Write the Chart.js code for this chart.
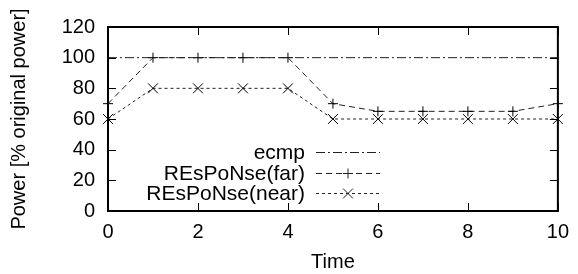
<!DOCTYPE html>
<html>
<head>
<meta charset="utf-8">
<script src="https://cdn.jsdelivr.net/npm/chart.js@4"></script>
<style>
  html, body { margin: 0; padding: 0; background: #fff; }
  #wrap { width: 578px; height: 274px; }
</style>
</head>
<body>
<div id="wrap"><canvas id="chart" width="578" height="274"></canvas></div>
<script>
// values
const times = [0, 1, 2, 3, 4, 5, 6, 7, 8, 9, 10];
const ecmp = [100, 100, 100, 100, 100, 100, 100, 100, 100, 100, 100];
const respFar = [70, 100, 100, 100, 100, 70, 65, 65, 65, 65, 70];
const respNear = [60, 80, 80, 80, 80, 60, 60, 60, 60, 60, 60];
const xTicks = [0, 2, 4, 6, 8, 10];
const yTicks = [0, 20, 40, 60, 80, 100, 120];

const FONT = "'Liberation Sans', Arial, Helvetica, sans-serif";
const INK = "#000";

const toPoints = vals => vals.map((v, i) => ({ x: times[i], y: v }));

// frame on all four sides with ticks pointing inward (gnuplot look)
const frameTicks = {
  id: "frameTicks",
  afterDatasetsDraw(chart) {
    const { ctx, chartArea: a, scales } = chart;
    const len = 8;
    ctx.save();
    ctx.strokeStyle = INK;
    ctx.lineWidth = 1;
    ctx.beginPath();
    for (const t of xTicks) {
      const px = Math.round(scales.x.getPixelForValue(t)) + 0.5;
      ctx.moveTo(px, a.bottom); ctx.lineTo(px, a.bottom - len);
      ctx.moveTo(px, a.top); ctx.lineTo(px, a.top + len);
    }
    for (const t of yTicks) {
      const py = Math.round(scales.y.getPixelForValue(t)) + 0.5;
      ctx.moveTo(a.left, py); ctx.lineTo(a.left + len, py);
      ctx.moveTo(a.right, py); ctx.lineTo(a.right - len, py);
    }
    ctx.stroke();
    ctx.lineWidth = 2;
    ctx.strokeRect(a.left, a.top, a.right - a.left, a.bottom - a.top);
    ctx.restore();
  }
};

// legend inside the plot: label right-aligned, then a line sample
const keyBox = {
  id: "keyBox",
  afterDatasetsDraw(chart) {
    const { ctx } = chart;
    const textRight = 305, x0 = 316, x1 = 380;
    const rows = [152, 173, 193];
    ctx.save();
    ctx.font = "21px " + FONT;
    ctx.textAlign = "right";
    ctx.textBaseline = "middle";
    chart.data.datasets.forEach((ds, i) => {
      const y = rows[i];
      ctx.fillStyle = INK;
      ctx.fillText(ds.label, textRight, y + 1);
      ctx.strokeStyle = ds.borderColor;
      ctx.lineWidth = ds.borderWidth;
      ctx.setLineDash(ds.borderDash);
      ctx.beginPath();
      ctx.moveTo(x0, y + 0.5);
      ctx.lineTo(x1, y + 0.5);
      ctx.stroke();
      ctx.setLineDash([]);
      if (ds.pointRadius > 0) {
        Chart.helpers.drawPoint(ctx, {
          pointStyle: ds.pointStyle,
          radius: ds.pointRadius,
          borderWidth: 1
        }, (x0 + x1) / 2, y + 0.5);
      }
    });
    ctx.restore();
  }
};

new Chart(document.getElementById("chart"), {
  type: "line",
  data: {
    datasets: [
      {
        label: "ecmp",
        data: toPoints(ecmp),
        borderColor: "#222",
        borderWidth: 1,
        borderDash: [9, 3, 2, 3],
        pointRadius: 0
      },
      {
        label: "REsPoNse(far)",
        data: toPoints(respFar),
        borderColor: "#222",
        borderWidth: 1,
        borderDash: [6, 4],
        pointStyle: "cross",
        pointRadius: 5,
        pointBorderColor: INK,
        pointBorderWidth: 1
      },
      {
        label: "REsPoNse(near)",
        data: toPoints(respNear),
        borderColor: "#222",
        borderWidth: 1,
        borderDash: [3, 3],
        pointStyle: "crossRot",
        pointRadius: 7,
        pointBorderColor: INK,
        pointBorderWidth: 1
      }
    ]
  },
  options: {
    responsive: false,
    animation: false,
    clip: false,
    layout: { padding: { top: 27, right: 15, left: 0, bottom: 0 } },
    plugins: { legend: { display: false }, tooltip: { enabled: false } },
    scales: {
      x: {
        type: "linear",
        min: 0,
        max: 10,
        afterBuildTicks: s => { s.ticks = xTicks.map(v => ({ value: v })); },
        afterFit: s => { s.height = 63; },
        grid: { display: false, drawTicks: false },
        border: { display: false },
        ticks: { color: INK, padding: 9, font: { family: FONT, size: 20 } },
        title: {
          display: true,
          text: "Time",
          color: INK,
          padding: { top: 0, bottom: 0 },
          font: { family: FONT, size: 20 }
        }
      },
      y: {
        min: 0,
        max: 120,
        afterBuildTicks: s => { s.ticks = yTicks.map(v => ({ value: v })); },
        afterFit: s => { s.width = 108; },
        grid: { display: false, drawTicks: false },
        border: { display: false },
        ticks: { color: INK, padding: 13, font: { family: FONT, size: 20 } },
        title: {
          display: true,
          text: "Power [% original power]",
          color: INK,
          padding: { top: 7, bottom: 0 },
          font: { family: FONT, size: 20 }
        }
      }
    }
  },
  plugins: [frameTicks, keyBox]
});
</script>
</body>
</html>
